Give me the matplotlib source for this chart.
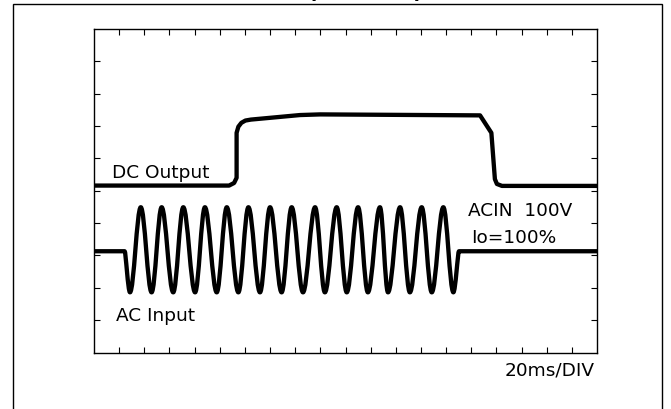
import matplotlib.pyplot as plt
from matplotlib.path import Path
from matplotlib.patches import PathPatch, Rectangle

# Data (divisions)
# DC Output trace: corner points
dc_x = [0.0, 5.37, 5.57, 5.67, 5.67, 5.74, 5.86, 6.02, 6.24, 8.19, 8.99, 15.35, 15.80, 15.94, 16.02, 16.22, 20.0]
dc_y = [5.16, 5.16, 5.24, 5.40, 6.79, 6.98, 7.10, 7.17, 7.20, 7.34, 7.36, 7.33, 6.79, 5.36, 5.21, 5.15, 5.15]

# AC Input trace: baseline, start/stop and extrema positions
ac_base = 3.13
ac_start = 1.22
ac_end = 14.51
ac_trough_y = 1.86
ac_peak_y = 4.49
ac_trough_x = [1.43, 2.29, 3.15, 4.02, 4.88, 5.74, 6.60, 7.46, 8.31, 9.18,
               10.05, 10.89, 11.69, 12.56, 13.43, 14.29]
ac_peak_x = [1.86, 2.69, 3.55, 4.41, 5.28, 6.14, 7.00, 7.86, 8.79, 9.65,
             10.50, 11.37, 12.17, 13.03, 13.89]

fig = plt.figure(figsize=(6.71, 4.10), dpi=100)
ax = fig.add_axes([94 / 671, 56.5 / 410, 503 / 671, 323.5 / 410])
ax.set_xlim(0, 20)
ax.set_ylim(0, 10)

# graticule ticks on all four sides, no labels
ax.set_xticks(range(1, 20))
ax.set_yticks(range(1, 10))
ax.tick_params(direction='in', length=4.5, width=0.8, top=True, right=True,
               labelbottom=False, labelleft=False)
for s in ax.spines.values():
    s.set_linewidth(1.0)

# DC output
ax.plot(dc_x, dc_y, color='black', lw=3.1, solid_joinstyle='round', solid_capstyle='butt')

# AC input: extrema joined by sine-like bezier segments
extrema = []
for i, tx in enumerate(ac_trough_x):
    extrema.append((tx, ac_trough_y))
    if i < len(ac_peak_x):
        extrema.append((ac_peak_x[i], ac_peak_y))

k = 0.364
verts = [(0, ac_base), (ac_start, ac_base)]
codes = [Path.MOVETO, Path.LINETO]
prev = (ac_start, ac_base)
for j, (x, y) in enumerate(extrema):
    dx = x - prev[0]
    k1 = 0.2 if j == 0 else k
    verts += [(prev[0] + k1 * dx, prev[1]), (x - k * dx, y), (x, y)]
    codes += [Path.CURVE4] * 3
    prev = (x, y)
dx = ac_end - prev[0]
verts += [(prev[0] + k * dx, prev[1]), (ac_end - 0.2 * dx, ac_base), (ac_end, ac_base), (20, ac_base)]
codes += [Path.CURVE4] * 3 + [Path.LINETO]
ax.add_patch(PathPatch(Path(verts, codes), fill=False, edgecolor='black', lw=3.1,
                       joinstyle='round', capstyle='butt'))

# labels
fs = 13.3
ax.text(0.70, 5.43, 'DC Output', fontsize=fs, va='baseline', ha='left')
ax.text(0.86, 1.00, 'AC Input', fontsize=fs, va='baseline', ha='left')
ax.text(14.89, 4.25, 'ACIN  100V', fontsize=fs, va='baseline', ha='left')
ax.text(14.99, 3.42, 'Io=100%', fontsize=fs, va='baseline', ha='left')
ax.text(19.92, -0.68, '20ms/DIV', fontsize=fs, va='baseline', ha='right', clip_on=False)

# title, cut off at the top like in the scan (only the bracket tails show)
fig.text(365 / 671, 1.006, '(TYPICAL)', fontsize=15, fontweight='bold', ha='center', va='baseline')

# outer frame
fig.add_artist(Rectangle((13 / 671, -0.05), (662 - 13) / 671, (410 - 5) / 410 + 0.05,
                         transform=fig.transFigure, fill=False, edgecolor='black', lw=1.0))

fig.savefig('out.png', dpi=100)
